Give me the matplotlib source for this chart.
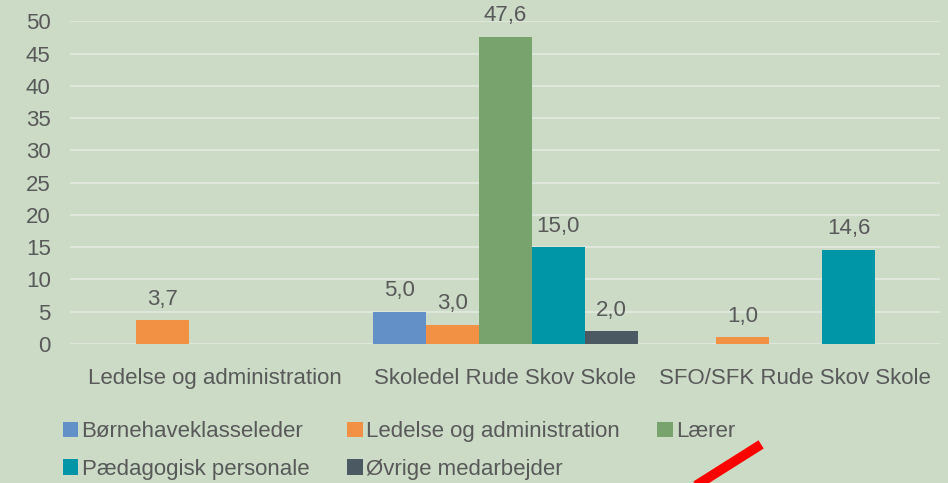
import numpy as np
import matplotlib
matplotlib.use('Agg')
import matplotlib.pyplot as plt
from matplotlib.lines import Line2D

plt.rcParams['font.family'] = ['Liberation Sans', 'DejaVu Sans']

categories = ['Ledelse og administration', 'Skoledel Rude Skov Skole', 'SFO/SFK Rude Skov Skole']
series = ['Børnehaveklasseleder', 'Ledelse og administration', 'Lærer',
          'Pædagogisk personale', 'Øvrige medarbejder']
boernehave = [0, 5.0, 0]
ledelse = [3.7, 3.0, 1.0]
laerer = [0, 47.6, 0]
paedagogisk = [0, 15.0, 14.6]
oevrige = [0, 2.0, 0]
values = [boernehave, ledelse, laerer, paedagogisk, oevrige]
colors = ['#6390c6', '#f29144', '#78a36c', '#0096a8', '#4b5a62']

bg = '#cbdbc6'
txt = '#595959'
fs = 16

fig = plt.figure(figsize=(9.48, 4.83), dpi=100, facecolor=bg)
ax = fig.add_axes([0.074, 0.288, 0.918, 0.668])
ax.set_facecolor(bg)

x = np.arange(len(categories))
w = 0.183
handles = []
for i, (name, vals, c) in enumerate(zip(series, values, colors)):
    pos = x + (i - 2) * w
    b = ax.bar(pos, vals, w, color=c, label=name, zorder=3)
    handles.append(b)
    for p, v in zip(pos, vals):
        if v > 0:
            ax.text(p, v + 1.6, f'{v:.1f}'.replace('.', ','), ha='center', va='bottom',
                    fontsize=fs, color=txt, clip_on=False)

ax.set_xlim(-0.5, 2.5)
ax.set_ylim(0, 50)
ax.set_yticks(range(0, 51, 5))
ax.yaxis.grid(True, color='#e4e9e1', linewidth=1.2, zorder=0)
ax.set_axisbelow(True)
for s in ax.spines.values():
    s.set_visible(False)
ax.tick_params(axis='both', length=0, labelsize=fs, labelcolor=txt)
ax.tick_params(axis='y', pad=14)
ax.tick_params(axis='x', pad=17)
ax.set_xticks(x)
ax.set_xticklabels(categories)

order = [0, 3, 1, 4, 2]
leg = fig.legend([handles[k] for k in order], [series[k] for k in order],
                 ncol=3, loc='lower left', bbox_to_anchor=(0.045, -0.035),
                 frameon=False, fontsize=fs, handlelength=0.7, handleheight=0.7,
                 handletextpad=0.15, columnspacing=1.7, labelspacing=0.75)
for t in leg.get_texts():
    t.set_color(txt)

# red stroke drawn over the image
fig.add_artist(Line2D([700 / 948, 757 / 948], [1 - 483 / 483, 1 - 447 / 483],
                      color='red', linewidth=7, transform=fig.transFigure))

fig.savefig('out.png', dpi=100, facecolor=bg)
